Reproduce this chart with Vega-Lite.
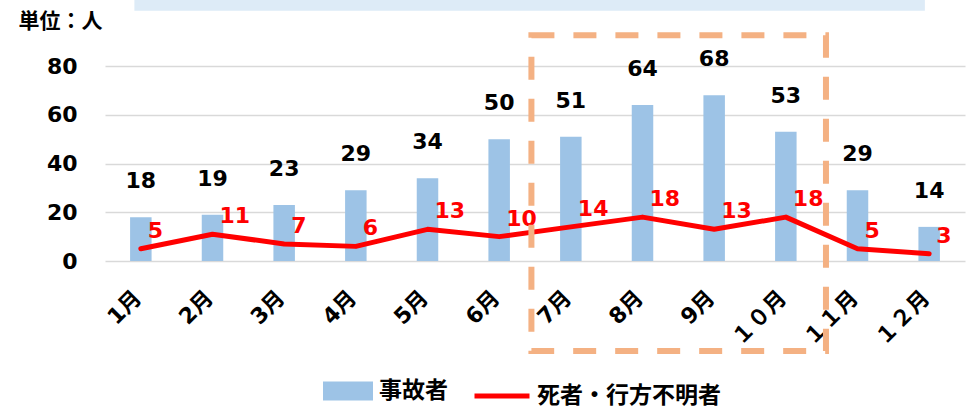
{
  "$schema": "https://vega.github.io/schema/vega-lite/v6.json",
  "width": 860,
  "height": 195,
  "autosize": {"type": "none"},
  "padding": {"left": 105, "top": 66, "right": 9, "bottom": 146},
  "background": "white",
  "config": {
    "view": {"stroke": null},
    "font": "DejaVu Sans, Noto Sans CJK JP",
    "axisY": {"values": [0, 20, 40, 60, 80], "labelFontSize": 22, "labelFontWeight": "bold", "labelColor": "black", "labelPadding": 28, "ticks": false, "domain": false, "grid": true, "gridColor": "#D9D9D9", "gridWidth": 1.5,
      "titleAngle": 0, "titleAlign": "left", "titleBaseline": "middle", "titleX": -87, "titleY": -45, "titleFontSize": 21, "titleFontWeight": "bold", "titleColor": "black"}
  },
  "data": {"values": [
    {"month": "1月", "accidents": 18, "deaths": 5},
    {"month": "2月", "accidents": 19, "deaths": 11},
    {"month": "3月", "accidents": 23, "deaths": 7},
    {"month": "4月", "accidents": 29, "deaths": 6},
    {"month": "5月", "accidents": 34, "deaths": 13},
    {"month": "6月", "accidents": 50, "deaths": 10},
    {"month": "7月", "accidents": 51, "deaths": 14},
    {"month": "8月", "accidents": 64, "deaths": 18},
    {"month": "9月", "accidents": 68, "deaths": 13},
    {"month": "１０月", "accidents": 53, "deaths": 18},
    {"month": "１１月", "accidents": 29, "deaths": 5},
    {"month": "１２月", "accidents": 14, "deaths": 3}
  ]},
  "layer": [
    {
      "mark": {"type": "bar", "width": {"band": 0.3}},
      "encoding": {
        "x": {
          "field": "month", "type": "nominal",
          "scale": {"domain": ["1月","2月","3月","4月","5月","6月","7月","8月","9月","１０月","１１月","１２月"], "paddingInner": 0, "paddingOuter": 0},
          "axis": {"labelAngle": -45, "labelAlign": "right", "labelBaseline": "middle", "labelFontSize": 22, "labelFontWeight": "bold", "labelColor": "black", "labelPadding": 33, "labelOffset": -3, "ticks": false, "domain": false, "grid": false, "labelOverlap": false},
          "title": null
        },
        "y": {
          "field": "accidents", "type": "quantitative",
          "scale": {"domain": [0, 80], "nice": false},
          "title": "単位：人"
        },
        "fill": {
          "datum": "事故者", "type": "nominal",
          "scale": {"domain": ["事故者"], "range": ["#9DC3E6"]},
          "legend": {"orient": "none", "legendX": 218, "legendY": 300, "direction": "horizontal", "symbolType": "M-1,-0.38H1V0.38H-1Z", "symbolSize": 2500, "symbolStrokeWidth": 0, "labelFontSize": 23, "labelFontWeight": "bold", "labelColor": "black", "labelOffset": 6, "labelLimit": 0, "title": null, "padding": 0}
        }
      }
    },
    {
      "mark": {"type": "line", "strokeWidth": 5, "strokeCap": "round", "strokeJoin": "round"},
      "encoding": {
        "x": {"field": "month", "type": "nominal"},
        "y": {"field": "deaths", "type": "quantitative", "title": "単位：人"},
        "stroke": {
          "datum": "死者・行方不明者", "type": "nominal",
          "scale": {"domain": ["死者・行方不明者"], "range": ["#FF0000"]},
          "legend": {"orient": "none", "legendX": 367, "legendY": 300, "direction": "horizontal", "symbolType": "stroke", "symbolSize": 3025, "symbolStrokeWidth": 5, "labelFontSize": 23, "labelFontWeight": "bold", "labelColor": "black", "labelOffset": 5, "labelLimit": 0, "title": null, "padding": 0}
        }
      }
    },
    {
      "mark": {"type": "text", "dy": -36, "fontSize": 22, "fontWeight": "bold", "color": "black", "baseline": "middle"},
      "encoding": {
        "x": {"field": "month", "type": "nominal"},
        "y": {"field": "accidents", "type": "quantitative", "title": "単位：人"},
        "text": {"field": "accidents"}
      }
    },
    {
      "mark": {"type": "text", "dx": 7, "dy": -18, "align": "left", "fontSize": 22, "fontWeight": "bold", "color": "#FF0000", "baseline": "middle"},
      "encoding": {
        "x": {"field": "month", "type": "nominal"},
        "y": {"field": "deaths", "type": "quantitative", "title": "単位：人"},
        "text": {"field": "deaths"}
      }
    },
    {
      "data": {"values": [{}]},
      "mark": {"type": "rect", "fill": "#DDEBF7"},
      "encoding": {
        "x": {"datum": "1月", "type": "nominal", "bandPosition": 0.41},
        "x2": {"datum": "１２月", "bandPosition": 0.44},
        "y": {"datum": 102.7, "type": "quantitative", "title": "単位：人"},
        "y2": {"datum": 112}
      }
    },
    {
      "data": {"values": [{}]},
      "mark": {"type": "rect", "filled": false, "stroke": "#F4B183", "strokeWidth": 6, "strokeDash": [23, 19]},
      "encoding": {
        "x": {"datum": "7月", "type": "nominal", "bandPosition": -0.05},
        "x2": {"datum": "１０月", "bandPosition": 1.06},
        "y": {"datum": 92.6, "type": "quantitative", "title": "単位：人"},
        "y2": {"datum": -36.9}
      }
    }
  ]
}
